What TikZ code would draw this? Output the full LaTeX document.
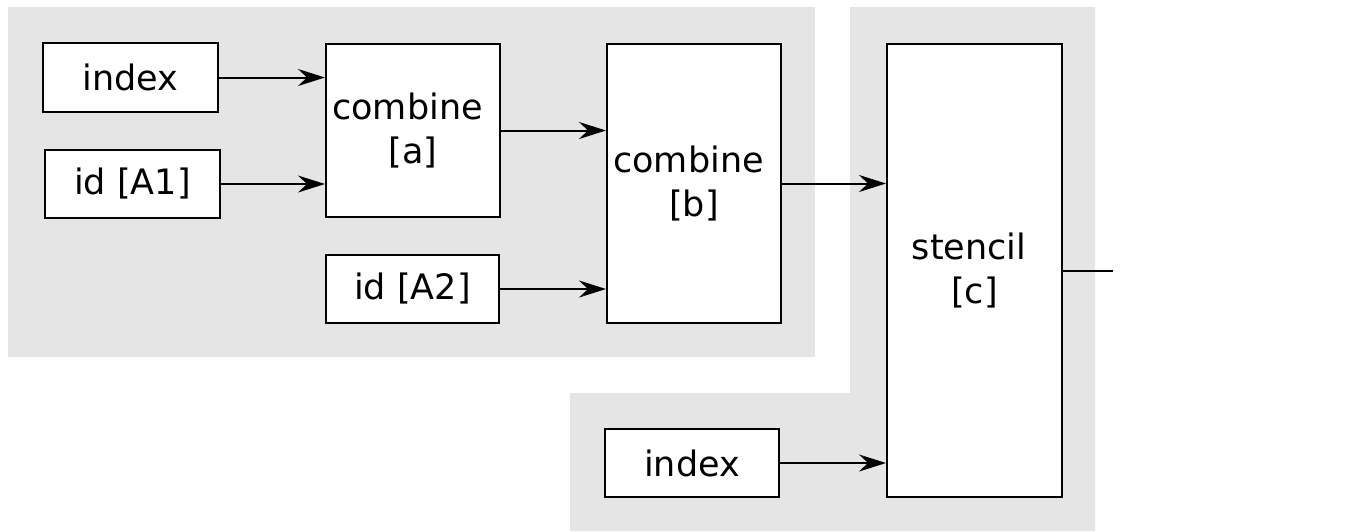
\documentclass[tikz,border=0pt]{standalone}
\usepackage{fontspec}
\setmainfont{DejaVu Sans}
\usetikzlibrary{arrows.meta}
\definecolor{bg}{HTML}{E5E5E5}
\newcommand{\tsp}{\makebox[11pt]{}}
\begin{document}
\begin{tikzpicture}[x=1pt,y=-1pt,
  blk/.style={draw=black, fill=white, line width=2pt, inner sep=0pt, align=center,
    font=\fontsize{35}{44}\selectfont},
  conn/.style={line width=2pt, -{Stealth[length=27pt,width=17pt,inset=9pt]}}]
\useasboundingbox (0,0) rectangle (1367,531);
\fill[bg] (8,7) rectangle (815,357);
\fill[bg] (850,7) -- (1095,7) -- (1095,531) -- (570,531) -- (570,393) -- (850,393) -- cycle;
\node[blk, minimum width=175pt, minimum height=69pt] (i1) at (130.5,77.5) {index};
\node[blk, minimum width=175pt, minimum height=68pt] (a1) at (132.5,184) {id [A1]};
\node[blk, minimum width=174pt, minimum height=173pt] (ca) at (413,130.5) {combine\tsp\\{}[a]};
\node[blk, minimum width=173pt, minimum height=68pt] (a2) at (412.5,289) {id [A2]};
\node[blk, minimum width=174pt, minimum height=279pt] (cb) at (694,183.5) {combine\tsp\\{}[b]};
\node[blk, minimum width=175pt, minimum height=453pt] (st) at (974.5,270.5) {stencil\tsp\\{}[c]};
\node[blk, minimum width=174pt, minimum height=68pt] (i2) at (692,463) {index};
\coordinate (out) at (1113,271);
\draw[conn] (i1.east) -- (ca.west |- i1.east);
\draw[conn] (a1.east) -- (ca.west |- a1.east);
\draw[conn] (ca.east) -- (cb.west |- ca.east);
\draw[conn] (a2.east) -- (cb.west |- a2.east);
\draw[conn] (cb.east) -- (st.west |- cb.east);
\draw[conn] (i2.east) -- (st.west |- i2.east);
\draw[line width=2pt] (st.east |- out) -- (out);
\end{tikzpicture}
\end{document}
